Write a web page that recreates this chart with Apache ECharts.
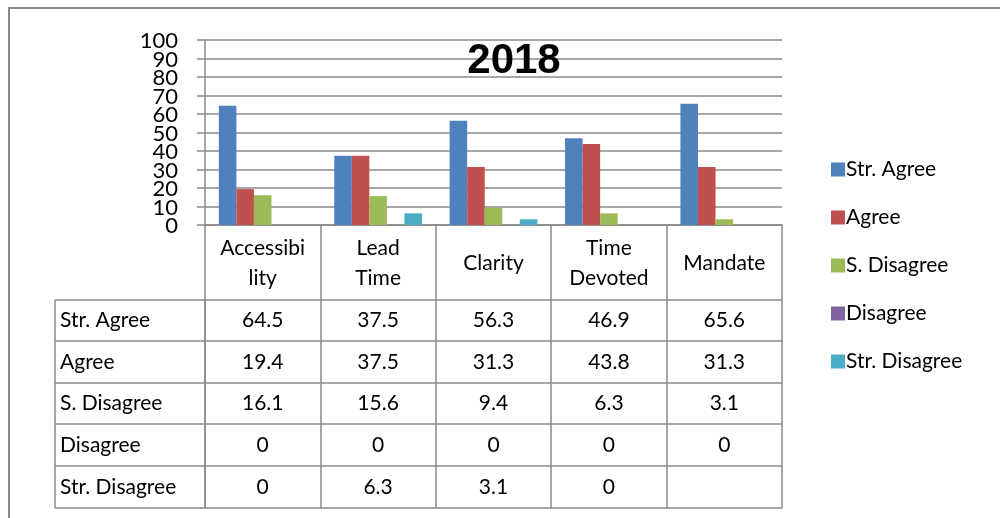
<!DOCTYPE html>
<html><head><meta charset="utf-8">
<script src="https://cdn.jsdelivr.net/npm/echarts@6/dist/echarts.min.js"></script>
<style>html,body{margin:0;padding:0;background:#fff}#c{width:1000px;height:518px}</style>
</head><body><div id="c"></div>
<script>
const chartTitle = '2018';
const categories = ['Accessibility', 'Lead Time', 'Clarity', 'Time Devoted', 'Mandate'];
const categoryLabels = ['Accessibi\nlity', 'Lead\nTime', 'Clarity', 'Time\nDevoted', 'Mandate'];
const seriesNames = ['Str. Agree', 'Agree', 'S. Disagree', 'Disagree', 'Str. Disagree'];
const strAgree = [64.5, 37.5, 56.3, 46.9, 65.6];
const agree = [19.4, 37.5, 31.3, 43.8, 31.3];
const sDisagree = [16.1, 15.6, 9.4, 6.3, 3.1];
const disagree = [0, 0, 0, 0, 0];
const strDisagree = [0, 6.3, 3.1, 0, null];
const yTickValues = [0, 10, 20, 30, 40, 50, 60, 70, 80, 90, 100];
const yTickLabels = ['0', '10', '20', '30', '40', '50', '60', '70', '80', '90', '100'];
const colors = ['#4F81BD', '#C0504D', '#9BBB59', '#8064A2', '#4BACC6'];

const seriesData = [strAgree, agree, sDisagree, disagree, strDisagree];
const FONT = 'Lato';
const GRID_LINE = '#8a8a8a';

const chart = echarts.init(document.getElementById('c'));

const option = {
  animation: false,
  color: colors,
  textStyle: { fontFamily: FONT },
  title: {
    text: chartTitle, left: 509, top: 35, textAlign: 'center',
    textStyle: { fontFamily: 'Liberation Sans', fontWeight: 'bold', fontSize: 42, color: '#000' }
  },
  legend: {
    orient: 'vertical', left: 826, top: 154, itemGap: 27,
    itemWidth: 14, itemHeight: 14, icon: 'rect',
    textStyle: { fontFamily: FONT, fontSize: 21, color: '#000', padding: [0, 0, 0, -4] },
    data: seriesNames
  },
  grid: { left: 205, right: 218, top: 40, bottom: 293, containLabel: false },
  xAxis: {
    type: 'category', data: categories,
    axisLine: { show: true, lineStyle: { color: GRID_LINE, width: 1.5 } },
    axisTick: { show: true, length: 283, lineStyle: { color: GRID_LINE, width: 1.5 } },
    axisLabel: {
      interval: 0, margin: 38, verticalAlign: 'middle',
      fontFamily: FONT, fontSize: 21, lineHeight: 30, color: '#000',
      formatter: (v, i) => categoryLabels[i]
    }
  },
  yAxis: {
    type: 'value', min: 0, max: 100, interval: 10,
    axisLine: { show: true, lineStyle: { color: GRID_LINE, width: 1.5 } },
    axisTick: { show: true, length: 8, lineStyle: { color: GRID_LINE, width: 1.5 } },
    splitLine: { show: true, lineStyle: { color: GRID_LINE, width: 1.5 } },
    axisLabel: { show: false }
  },
  series: seriesNames.map((name, k) => ({
    name, type: 'bar', data: seriesData[k],
    barGap: '0%', barCategoryGap: '24%'
  }))
};
chart.setOption(option);

const g = [];
// Outer frame
g.push({ type: 'rect', shape: { x: 9, y: 8, width: 1000, height: 520 }, style: { fill: null, stroke: '#8a8a8a', lineWidth: 2 }, silent: true });
// Y tick labels (placed through the axis scale; drawn here because they overlap like the original)
yTickValues.forEach((v, i) => {
  const py = chart.convertToPixel({ yAxisIndex: 0 }, v);
  g.push({ type: 'text', x: 178, y: py + 1, style: { text: yTickLabels[i], fontFamily: FONT, fontSize: 22, fill: '#000', verticalAlign: 'middle', align: 'right' }, silent: true });
});
// Data table below the axis
const rowTops = [300, 341, 383, 424, 466, 508];
const tableLeft = 55, firstColRight = 205, tableRight = 782;
rowTops.forEach(y => g.push({ type: 'line', shape: { x1: tableLeft, y1: y, x2: tableRight, y2: y }, style: { stroke: GRID_LINE, lineWidth: 1.5 }, silent: true }));
g.push({ type: 'line', shape: { x1: tableLeft, y1: rowTops[0], x2: tableLeft, y2: rowTops[5] }, style: { stroke: GRID_LINE, lineWidth: 1.5 }, silent: true });
g.push({ type: 'line', shape: { x1: firstColRight, y1: rowTops[0], x2: firstColRight, y2: rowTops[5] }, style: { stroke: GRID_LINE, lineWidth: 1.5 }, silent: true });
seriesNames.forEach((name, r) => {
  const cy = (rowTops[r] + rowTops[r + 1]) / 2;
  g.push({ type: 'text', x: tableLeft + 5, y: cy, style: { text: name, fontFamily: FONT, fontSize: 21, fill: '#000', verticalAlign: 'middle', align: 'left' }, silent: true });
  categories.forEach((c, i) => {
    const v = seriesData[r][i];
    const cx = chart.convertToPixel({ xAxisIndex: 0 }, i);
    g.push({ type: 'text', x: cx, y: cy, style: { text: v == null ? '' : String(v), fontFamily: FONT, fontSize: 21, fill: '#000', verticalAlign: 'middle', align: 'center' }, silent: true });
  });
});
chart.setOption({ graphic: g });
</script></body></html>
